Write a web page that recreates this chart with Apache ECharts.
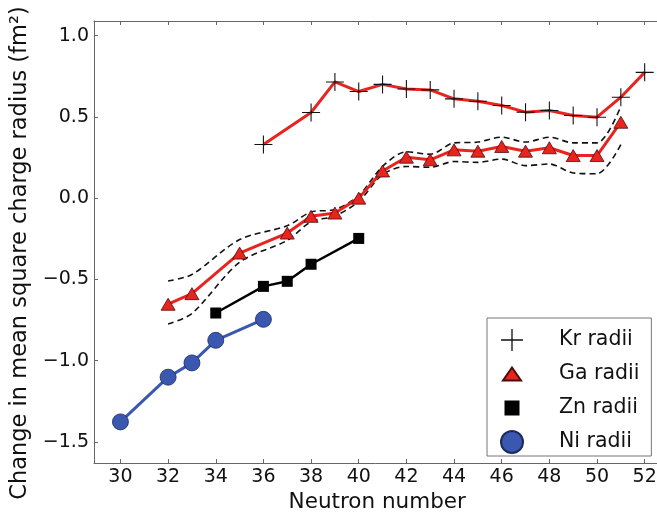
<!DOCTYPE html>
<html><head><meta charset="utf-8">
<script src="https://cdn.jsdelivr.net/npm/echarts@6/dist/echarts.min.js"></script>
<style>html,body{margin:0;padding:0;background:#fff}#c{width:657px;height:514px}</style>
</head><body><div id="c"></div>
<script>
// ---- data ----
const xTicks = [30, 32, 34, 36, 38, 40, 42, 44, 46, 48, 50, 52];
const yTicks = [-1.5, -1.0, -0.5, 0.0, 0.5, 1.0];

const krN = [36, 38, 39, 40, 41, 42, 43, 44, 45, 46, 47, 48, 49, 50, 51, 52];
const krR = [0.33, 0.527, 0.715, 0.656, 0.70, 0.672, 0.666, 0.611, 0.596, 0.57, 0.529, 0.539, 0.508, 0.498, 0.621, 0.774];

const gaN = [32, 33, 35, 37, 38, 39, 40, 41, 42, 43, 44, 45, 46, 47, 48, 49, 50, 51];
const gaR = [-0.653, -0.588, -0.338, -0.215, -0.112, -0.092, 0.0, 0.167, 0.252, 0.236, 0.297, 0.289, 0.318, 0.289, 0.31, 0.262, 0.262, 0.467];
const gaUpper = [-0.51, -0.47, -0.255, -0.17, -0.085, -0.07, 0.015, 0.195, 0.285, 0.27, 0.34, 0.345, 0.375, 0.345, 0.375, 0.34, 0.34, 0.565];
const gaLower = [-0.775, -0.71, -0.395, -0.26, -0.145, -0.11, -0.02, 0.145, 0.195, 0.19, 0.225, 0.22, 0.24, 0.2, 0.21, 0.155, 0.15, 0.33];

const znN = [34, 36, 37, 38, 40];
const znR = [-0.707, -0.543, -0.512, -0.407, -0.248];

const niN = [30, 32, 33, 34, 36];
const niR = [-1.377, -1.102, -1.014, -0.875, -0.746];

const seriesNames = ['Kr radii', 'Ga radii', 'Zn radii', 'Ni radii'];

// ---- build ----
const pairs = (xs, ys) => xs.map((x, i) => [x, ys[i]]);
const FONT = 'DejaVu Sans';
const RED = '#e8241f';
const BLUE = '#3b58b0';
const PLUS = 'path://M0,9.4H20V10.6H0Z M9.4,0H10.6V20H9.4Z';

const chart = echarts.init(document.getElementById('c'), null, {renderer: 'canvas'});
const fmtY = v => (v < 0 ? '\u2212' : '') + Math.abs(v).toFixed(1);

chart.setOption({
  animation: false,
  backgroundColor: '#fff',
  grid: {left: 94, top: 21, right: -11.5, bottom: 51, outerBoundsMode: 'none', containLabel: false},
  xAxis: [{
    type: 'value', min: 28.89, max: 53, position: 'bottom',
    name: 'Neutron number', nameLocation: 'middle', nameGap: 24,
    nameTextStyle: {fontFamily: FONT, fontSize: 21.5, color: '#111', padding: [0, 8, 0, 0]},
    axisLine: {show: true, onZero: false, lineStyle: {color: '#666', width: 1}},
    axisTick: {show: true, inside: true, length: 4, customValues: xTicks, lineStyle: {color: '#666'}},
    axisLabel: {customValues: xTicks, fontFamily: FONT, fontSize: 19, color: '#111', margin: 5},
    splitLine: {show: false}
  }, {
    type: 'value', min: 28.89, max: 53, position: 'top',
    axisLine: {show: true, onZero: false, lineStyle: {color: '#666', width: 1}},
    axisTick: {show: true, inside: true, length: 4, customValues: xTicks, lineStyle: {color: '#666'}},
    axisLabel: {show: false},
    splitLine: {show: false}
  }],
  yAxis: {
    type: 'value', min: -1.63, max: 1.09,
    name: 'Change in mean square charge radius (fm\u00b2)', nameLocation: 'middle', nameGap: 62,
    nameTextStyle: {fontFamily: FONT, fontSize: 22.5, color: '#111', padding: [0, 22, 0, 0]},
    axisLine: {show: true, onZero: false, lineStyle: {color: '#666', width: 1}},
    axisTick: {show: true, inside: true, length: 4, customValues: yTicks, lineStyle: {color: '#666'}},
    axisLabel: {customValues: yTicks, fontFamily: FONT, fontSize: 19, color: '#111', margin: 5, formatter: fmtY},
    splitLine: {show: false}
  },
  legend: {
    left: 487, top: 318,
    orient: 'vertical',
    backgroundColor: '#fff',
    borderColor: '#777', borderWidth: 1, borderRadius: 0,
    padding: [11, 12, 2, 13],
    itemWidth: 22, itemHeight: 22, itemGap: 11,
    textStyle: {fontFamily: FONT, fontSize: 20.5, color: '#111', lineHeight: 16, padding: [0, 0, 6, 31]},
    data: [
      {name: seriesNames[0], icon: PLUS},
      {name: seriesNames[1], icon: 'path://M0,0M22,22M11,4.5L20,17.5L2,17.5Z'},
      {name: seriesNames[2], icon: 'path://M0,0M22,22M3.5,3.5H18.5V18.5H3.5Z'},
      {name: seriesNames[3], icon: 'circle'}
    ]
  },
  series: [
    {
      name: 'Ga upper', type: 'line', data: pairs(gaN, gaUpper), smooth: 0.3,
      showSymbol: false, symbol: 'none', z: 1, silent: true,
      lineStyle: {color: '#111', width: 1.6, type: [6, 4]}
    },
    {
      name: 'Ga lower', type: 'line', data: pairs(gaN, gaLower), smooth: 0.3,
      showSymbol: false, symbol: 'none', z: 1, silent: true,
      lineStyle: {color: '#111', width: 1.6, type: [6, 4]}
    },
    {
      name: seriesNames[0], type: 'line', data: pairs(krN, krR), z: 3,
      symbol: PLUS, symbolSize: 18,
      lineStyle: {color: RED, width: 3},
      itemStyle: {color: '#111'}
    },
    {
      name: seriesNames[1], type: 'line', data: pairs(gaN, gaR), z: 2,
      symbol: 'triangle', symbolSize: [14, 12],
      lineStyle: {color: RED, width: 3},
      itemStyle: {color: RED, borderColor: '#4a0d0d', borderWidth: 0.8}
    },
    {
      name: seriesNames[2], type: 'line', data: pairs(znN, znR), z: 2,
      symbol: 'rect', symbolSize: 11,
      lineStyle: {color: '#000', width: 2.5},
      itemStyle: {color: '#000'}
    },
    {
      name: seriesNames[3], type: 'line', data: pairs(niN, niR), z: 2,
      symbol: 'circle', symbolSize: 16,
      lineStyle: {color: BLUE, width: 3},
      itemStyle: {color: BLUE, borderColor: '#1c2a5c', borderWidth: 0.8}
    }
  ]
});
</script>
</body></html>
